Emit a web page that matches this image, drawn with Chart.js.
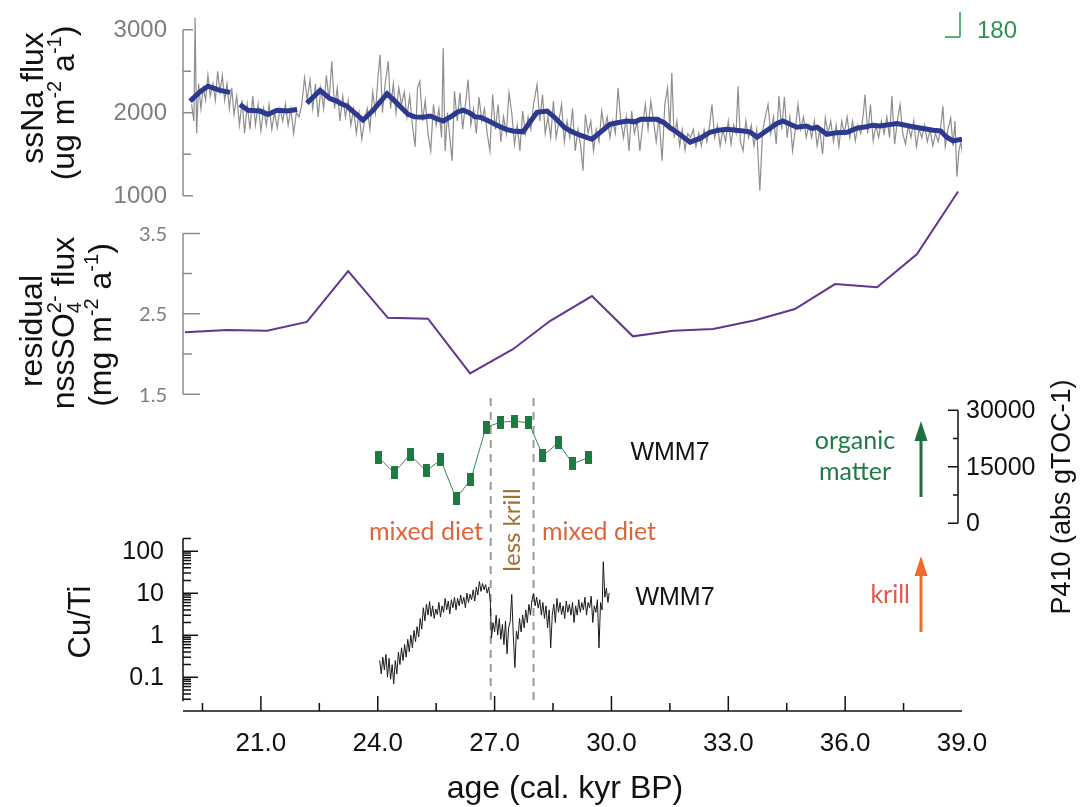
<!DOCTYPE html>
<html>
<head>
<meta charset="utf-8">
<script src="https://cdn.jsdelivr.net/npm/chart.js@4.4.0/dist/chart.umd.min.js"></script>
<style>
  html, body { margin: 0; padding: 0; background: #fff; }
  #chart { display: block; }
</style>
</head>
<body>
<canvas id="chart" width="1083" height="807"></canvas>
<script>
// ---- data ----
// ssNa flux, raw record (ug m-2 a-1)
const naRawAge = [
  19.22, 19.28, 19.31, 19.35, 19.40, 19.46, 19.52, 19.58, 19.64, 19.70,
  19.77, 19.83, 19.89, 19.95, 20.01, 20.07, 20.13, 20.19, 20.25, 20.31,
  20.38, 20.45, 20.52, 20.58, 20.65, 20.72, 20.79, 20.86, 20.93, 21.00,
  21.07, 21.14, 21.21, 21.28, 21.35, 21.42, 21.49, 21.56, 21.63, 21.70,
  21.77, 21.84, 21.91, 21.98, 22.05, 22.12, 22.19, 22.26, 22.33, 22.40,
  22.47, 22.54, 22.61, 22.68, 22.75, 22.82, 22.89, 22.96, 23.03, 23.10,
  23.17, 23.24, 23.31, 23.38, 23.45, 23.52, 23.59, 23.66, 23.73, 23.80,
  23.87, 23.94, 24.01, 24.06, 24.12, 24.19, 24.27, 24.33, 24.40, 24.47,
  24.54, 24.61, 24.68, 24.75, 24.82, 24.89, 24.96, 25.02, 25.08, 25.15,
  25.22, 25.29, 25.36, 25.43, 25.50, 25.57, 25.64, 25.68, 25.73, 25.79,
  25.85, 25.91, 25.97, 26.04, 26.11, 26.18, 26.25, 26.32, 26.39, 26.46,
  26.53, 26.60, 26.67, 26.74, 26.81, 26.88, 26.95, 27.02, 27.09, 27.16,
  27.23, 27.30, 27.37, 27.44, 27.51, 27.58, 27.65, 27.72, 27.79, 27.86,
  27.93, 28.00, 28.09, 28.16, 28.23, 28.30, 28.37, 28.44, 28.51, 28.58,
  28.65, 28.72, 28.79, 28.86, 28.93, 29.00, 29.07, 29.14, 29.21, 29.27,
  29.33, 29.40, 29.47, 29.54, 29.61, 29.68, 29.75, 29.82, 29.89, 29.96,
  30.03, 30.10, 30.17, 30.24, 30.31, 30.38, 30.45, 30.52, 30.59, 30.66,
  30.73, 30.80, 30.87, 30.94, 31.01, 31.08, 31.15, 31.22, 31.30, 31.37,
  31.44, 31.50, 31.55, 31.61, 31.68, 31.75, 31.82, 31.89, 31.96, 32.03,
  32.10, 32.17, 32.24, 32.31, 32.38, 32.45, 32.52, 32.58, 32.65, 32.72,
  32.79, 32.86, 32.93, 33.00, 33.07, 33.14, 33.20, 33.25, 33.31, 33.38,
  33.45, 33.52, 33.59, 33.66, 33.73, 33.81, 33.88, 33.95, 34.02, 34.09,
  34.16, 34.23, 34.30, 34.37, 34.44, 34.51, 34.58, 34.65, 34.72, 34.79,
  34.86, 34.93, 35.00, 35.07, 35.14, 35.21, 35.28, 35.35, 35.42, 35.49,
  35.56, 35.63, 35.70, 35.77, 35.84, 35.91, 35.98, 36.05, 36.12, 36.19,
  36.26, 36.33, 36.40, 36.47, 36.51, 36.58, 36.65, 36.72, 36.79, 36.86,
  36.93, 37.00, 37.07, 37.14, 37.20, 37.27, 37.34, 37.41, 37.48, 37.55,
  37.62, 37.69, 37.76, 37.83, 37.90, 37.97, 38.04, 38.11, 38.18, 38.25,
  38.32, 38.39, 38.46, 38.51, 38.57, 38.64, 38.71, 38.77, 38.82, 38.87,
  38.92, 38.97, 39.02
];
const naRaw = [
  2100, 1900, 3150, 1750, 2350, 2050, 2300, 2150, 2450, 2200,
  2350, 2150, 2500, 2250, 2450, 2150, 2350, 2050, 2300, 1980,
  2200, 1850, 2150, 1750, 2100, 1800, 2200, 1850, 2100, 1780,
  2050, 1850, 2100, 1800, 2000, 1820, 2050, 1900, 2100, 1850,
  2050, 1750, 2000, 1950, 2100, 2420, 2150, 2400, 2050, 2350,
  1950, 2300, 2050, 2450, 2150, 2620, 2050, 2300, 1900, 2200,
  1950, 2150, 1850, 2050, 1750, 2000, 1680, 1900, 2050, 1800,
  2250, 2000, 2450, 2700, 2000, 2350, 2620, 2050, 2350, 2000,
  2300, 2100, 2250, 1950, 2200, 1850, 1590, 2300, 2380, 1900,
  2150, 1750, 1540, 2100, 1850, 2050, 1700, 2780, 1540, 2000,
  1700, 1420, 2260, 1900, 2240, 1800, 2100, 2400, 1850, 2050,
  1750, 2190, 1900, 2050, 1750, 1540, 2220, 1800, 2100, 1650,
  1950, 1750, 2240, 2000, 1620, 1850, 1540, 2020, 1750, 1950,
  1800, 2100, 2340, 1900, 2220, 1750, 1950, 1700, 2140, 1700,
  1900, 2100, 1650, 1900, 1700, 2050, 1540, 1800, 1600, 1300,
  1980, 1750, 1900, 1540, 1800, 1650, 2020, 1800, 1950, 1700,
  1900, 1750, 2300, 1900, 1700, 1950, 1540, 2020, 1750, 1900,
  1540, 1850, 2100, 1800, 2140, 1900, 1650, 1950, 1420, 2100,
  2300, 1800, 2480, 1700, 1900, 1600, 1800, 1550, 1750, 1700,
  1800, 1590, 1750, 1600, 1800, 1650, 1850, 2100, 1700, 1850,
  1600, 1800, 1650, 1900, 1620, 1850, 1750, 2320, 1650, 1540,
  1900, 1700, 1850, 1600, 1800, 1060, 1780, 1950, 2100, 1750,
  1950, 1620, 2200, 1800, 2190, 1700, 1950, 1540, 1800, 2100,
  1800, 1950, 1700, 1850, 1700, 1900, 1600, 1800, 1500, 1940,
  1750, 1900, 1650, 1850, 1590, 1900, 1750, 1950, 1700, 1900,
  1660, 1850, 1750, 2000, 2220, 1750, 2100, 1660, 1850, 1700,
  1900, 1750, 1950, 1700, 2200, 1620, 1900, 2100, 1750, 1620,
  1850, 1700, 1900, 1590, 1800, 1700, 1850, 1650, 1800, 1600,
  1750, 1650, 1850, 2080, 1590, 1800, 1940, 1600, 1900, 1230,
  1540, 1650, 1470
];

// ssNa flux, smoothed (null = gap in the curve)
const naSmoothAge = [
  19.18, 19.44, 19.64, 19.95, 20.21, 20.33, 20.46, 20.67, 20.98, 21.18,
  21.41, 21.67, 21.93, 22.05, 22.18, 22.52, 22.77, 22.95, 23.05, 23.21,
  23.62, 23.88, 24.24, 24.44, 24.78, 24.95, 25.16, 25.35, 25.50, 25.68,
  25.90, 26.05, 26.19, 26.35, 26.50, 26.63, 26.85, 27.10, 27.30, 27.47,
  27.73, 28.09, 28.35, 28.55, 28.80, 29.01, 29.25, 29.50, 29.96, 30.15,
  30.40, 30.60, 30.75, 30.91, 31.17, 31.35, 31.50, 31.68, 32.02, 32.27,
  32.53, 32.75, 32.97, 33.38, 33.55, 33.74, 34.25, 34.40, 34.76, 35.00,
  35.15, 35.28, 35.53, 35.80, 36.05, 36.30, 36.55, 36.70, 36.89, 37.33,
  37.55, 37.74, 38.26, 38.45, 38.61, 38.77, 39.00
];
const naSmooth = [
  2140, 2255, 2320, 2270, 2245, null, 2100, 2030, 2020, 1980,
  2030, 2020, 2040, null, 2115, 2270, 2170, 2140, 2110, 2080,
  1910, 2030, 2230, 2140, 1980, 1950, 1945, 1960, 1930, 1900,
  1960, 2010, 2030, 2000, 1950, 1945, 1900, 1840, 1800, 1780,
  1770, 2005, 2020, 1940, 1820, 1765, 1720, 1680, 1860, 1880,
  1900, 1890, 1920, 1920, 1920, 1880, 1820, 1765, 1645, 1690,
  1765, 1790, 1800, 1780, 1770, 1705, 1870, 1900, 1825, 1840,
  1810, 1825, 1740, 1760, 1765, 1815, 1830, 1850, 1840, 1870,
  1850, 1830, 1790, 1780, 1705, 1660, 1680
];

// residual nssSO4 2- flux (mg m-2 a-1)
const so4Age = [19.05, 20.13, 21.16, 22.18, 23.24, 24.26, 25.29, 26.37, 27.47, 28.42,
                29.50, 30.55, 31.58, 32.61, 33.69, 34.71, 35.74, 36.82, 37.84, 38.90];
const so4Flux = [2.27, 2.30, 2.29, 2.40, 3.03, 2.45, 2.44, 1.76, 2.06, 2.41,
                 2.72, 2.22, 2.29, 2.31, 2.42, 2.56, 2.87, 2.83, 3.24, 4.02];

// P410 (abs gTOC-1), WMM7
const p410Age = [24.03, 24.42, 24.83, 25.24, 25.62, 26.01, 26.39, 26.78, 27.16, 27.52,
                 27.88, 28.24, 28.63, 29.01, 29.40];
const p410 = [17400, 13400, 18200, 13900, 16800, 6600, 11600, 25500, 26800, 27100,
              26600, 17900, 21300, 15800, 17400];

// Cu/Ti, WMM7
const cuTiAge = [
  24.05, 24.09, 24.13, 24.17, 24.21, 24.25, 24.29, 24.33, 24.37, 24.41,
  24.45, 24.49, 24.53, 24.57, 24.61, 24.65, 24.69, 24.73, 24.77, 24.81,
  24.85, 24.89, 24.93, 24.97, 25.01, 25.05, 25.09, 25.13, 25.17, 25.21,
  25.25, 25.29, 25.33, 25.37, 25.41, 25.45, 25.49, 25.53, 25.57, 25.61,
  25.65, 25.69, 25.73, 25.77, 25.81, 25.85, 25.89, 25.93, 25.97, 26.01,
  26.05, 26.09, 26.13, 26.17, 26.21, 26.25, 26.29, 26.33, 26.37, 26.41,
  26.45, 26.49, 26.53, 26.57, 26.61, 26.65, 26.69, 26.73, 26.77, 26.81,
  26.85, 26.89, 26.92, 26.96, 27.00, 27.04, 27.08, 27.12, 27.16, 27.20,
  27.24, 27.28, 27.32, 27.36, 27.40, 27.44, 27.48, 27.52, 27.56, 27.60,
  27.64, 27.68, 27.72, 27.76, 27.80, 27.84, 27.88, 27.92, 27.96, 28.00,
  28.04, 28.08, 28.12, 28.16, 28.20, 28.24, 28.28, 28.32, 28.36, 28.40,
  28.44, 28.48, 28.52, 28.56, 28.60, 28.64, 28.68, 28.72, 28.76, 28.80,
  28.84, 28.88, 28.92, 28.96, 29.00, 29.04, 29.08, 29.12, 29.16, 29.20,
  29.24, 29.28, 29.32, 29.36, 29.40, 29.44, 29.48, 29.52, 29.56, 29.60,
  29.64, 29.68, 29.72, 29.76, 29.79, 29.83, 29.87, 29.91, 29.94
];
const cuTi = [
  0.25, 0.12, 0.3, 0.15, 0.35, 0.1, 0.28, 0.09, 0.2, 0.07,
  0.25, 0.12, 0.4, 0.2, 0.5, 0.25, 0.6, 0.3, 0.8, 0.4,
  1.0, 0.5, 1.3, 0.7, 1.6, 0.9, 2.5, 1.4, 4.5, 2.2,
  5.5, 3.0, 6.3, 2.8, 5.0, 2.5, 4.2, 3.1, 6.0, 2.7,
  5.0, 3.5, 7.5, 4.0, 6.5, 3.2, 7.0, 4.5, 8.0, 4.0,
  7.5, 5.0, 9.0, 5.5, 8.0, 4.5, 10, 6.0, 9.5, 7.0,
  12, 6.5, 14, 9.0, 19, 11, 17, 12, 16, 10,
  14, 6.3, 0.85, 2.0, 1.2, 3.0, 1.0, 2.5, 0.8, 1.8,
  0.6, 2.2, 0.36, 1.5, 2.1, 9.3, 1.0, 0.17, 1.25, 0.8,
  2.5, 1.2, 3.0, 1.5, 4.0, 2.0, 5.4, 3.0, 7.0, 9.8,
  5.0, 8.0, 4.4, 7.0, 3.0, 6.0, 2.5, 5.0, 1.5, 4.0,
  0.5, 3.0, 5.5, 2.0, 7.5, 3.5, 6.0, 3.1, 5.0, 2.5,
  6.5, 3.5, 5.4, 3.0, 6.0, 2.0, 5.0, 3.0, 7.0, 3.5,
  6.0, 4.0, 8.0, 3.0, 6.0, 4.5, 8.5, 2.0, 5.0, 3.5,
  7.0, 0.5, 6.0, 4.0, 56, 8.0, 13, 6.0, 10
];

// boundaries of the "less krill" interval (kyr BP)
const zoneBounds = [26.9, 28.0];

// tick values / labels
const xMajorTicks = [21, 24, 27, 30, 33, 36];
const xMinorTicks = [19.5, 22.5, 25.5, 28.5, 31.5, 34.5, 37.5];
const xLabelValues = [21, 24, 27, 30, 33, 36, 39];
const xLabels = ['21.0', '24.0', '27.0', '30.0', '33.0', '36.0', '39.0'];
const naTicks = [1000, 2000, 3000];
const naMinor = [1500, 2500];
const so4Ticks = [1.5, 2.5, 3.5];
const so4Minor = [2.0, 3.0];
const p410Ticks = [0, 15000, 30000];
const p410Minor = [7500, 22500];
const cuTiTicks = [0.1, 1, 10, 100];
const cuTiLabels = ['0.1', '1', '10', '100'];

// ---- layout ----
const PLOT = { left: 183, right: 962, top: 0, bottom: 711 };
const SANS = '"Liberation Sans", Arial, sans-serif';
const SOFT = 'Lato, "Liberation Sans", sans-serif';

// y range so that value v1 lands on pixel p1 and v2 on p2
function fitLinear(v1, p1, v2, p2) {
  const k = (v2 - v1) / (p2 - p1);
  return { min: v1 + (PLOT.bottom - p1) * k, max: v1 + (PLOT.top - p1) * k };
}
function fitLog(v1, p1, v2, p2) {
  const l1 = Math.log10(v1), k = (Math.log10(v2) - l1) / (p2 - p1);
  return { min: Math.pow(10, l1 + (PLOT.bottom - p1) * k), max: Math.pow(10, l1 + (PLOT.top - p1) * k) };
}

const cuTiMinor = [];
[0.01, 0.1, 1, 10, 100].forEach(d => {
  for (let m = 2; m <= 9; m++) {
    const v = +(m * d).toPrecision(3);
    if (v >= 0.028 && v <= 200) cuTiMinor.push(v);
  }
});

const pts = (xs, ys) => xs.map((x, i) => ({ x: x, y: ys[i] }));

// green rectangular markers
const marker = document.createElement('canvas');
marker.width = 7; marker.height = 13;
const mctx = marker.getContext('2d');
mctx.fillStyle = '#1b7b40';
mctx.fillRect(0, 0, 7, 13);

function line(ctx, x0, y0, x1, y1) {
  ctx.moveTo(x0, y0); ctx.lineTo(x1, y1);
}

function vAxis(ctx, scale, o) {
  ctx.save();
  ctx.strokeStyle = o.color;
  ctx.lineWidth = 1.5;
  ctx.beginPath();
  line(ctx, o.x, scale.getPixelForValue(o.range[0]), o.x, scale.getPixelForValue(o.range[1]));
  o.major.forEach(v => {
    const y = scale.getPixelForValue(v);
    line(ctx, o.x, y, o.x + o.dir * o.majorLen, y);
  });
  o.minor.forEach(v => {
    const y = scale.getPixelForValue(v);
    line(ctx, o.x, y, o.x + o.dir * o.minorLen, y);
  });
  ctx.stroke();
  ctx.fillStyle = o.textColor;
  ctx.font = o.font;
  ctx.textAlign = o.dir > 0 ? 'right' : 'left';
  ctx.textBaseline = 'middle';
  o.major.forEach((v, i) => ctx.fillText(o.labels[i], o.labelX, scale.getPixelForValue(v) + 1));
  ctx.restore();
}

// text with super/subscripts; parts: strings or {sup, sub}
function richText(ctx, parts, x, y, size, rotate, color, family) {
  const small = Math.round(size * 0.62);
  const big = size + 'px ' + family, little = small + 'px ' + family;
  const width = p => {
    if (typeof p === 'string') { ctx.font = big; return ctx.measureText(p).width; }
    ctx.font = little;
    return Math.max(p.sup ? ctx.measureText(p.sup).width : 0, p.sub ? ctx.measureText(p.sub).width : 0);
  };
  ctx.save();
  ctx.translate(x, y);
  if (rotate) ctx.rotate(rotate);
  ctx.fillStyle = color;
  ctx.textAlign = 'left';
  ctx.textBaseline = 'alphabetic';
  let cx = -parts.reduce((s, p) => s + width(p), 0) / 2;
  parts.forEach(p => {
    const w = width(p);
    if (typeof p === 'string') {
      ctx.font = big; ctx.fillText(p, cx, 0);
    } else {
      ctx.font = little;
      if (p.sup) ctx.fillText(p.sup, cx, -size * 0.4);
      if (p.sub) ctx.fillText(p.sub, cx, size * 0.22);
    }
    cx += w;
  });
  ctx.restore();
}

function arrow(ctx, x, yTail, yTip, color) {
  ctx.save();
  ctx.strokeStyle = color; ctx.fillStyle = color; ctx.lineWidth = 3;
  ctx.beginPath(); line(ctx, x, yTail, x, yTip + 16); ctx.stroke();
  ctx.beginPath();
  ctx.moveTo(x, yTip); ctx.lineTo(x - 6.5, yTip + 20); ctx.lineTo(x + 6.5, yTip + 20);
  ctx.closePath(); ctx.fill();
  ctx.restore();
}

const decorations = {
  id: 'decorations',
  beforeDatasetsDraw(chart) {
    const ctx = chart.ctx, xs = chart.scales.x;
    ctx.save();
    ctx.strokeStyle = '#9b9b9b';
    ctx.lineWidth = 2;
    ctx.setLineDash([8, 6]);
    zoneBounds.forEach(a => {
      const px = xs.getPixelForValue(a);
      ctx.beginPath(); line(ctx, px, 398, px, 700); ctx.stroke();
    });
    ctx.restore();
  },
  afterDraw(chart) {
    const ctx = chart.ctx, s = chart.scales, xs = s.x;

    // y axes
    vAxis(ctx, s.yNa, { x: 183, dir: 1, range: [1000, 3000], major: naTicks, minor: naMinor,
      majorLen: 10, minorLen: 8, labels: naTicks.map(String), labelX: 167,
      color: '#8a8a8a', textColor: '#7d7d7d', font: '24px ' + SANS });
    vAxis(ctx, s.ySO4, { x: 183, dir: 1, range: [1.5, 3.5], major: so4Ticks, minor: so4Minor,
      majorLen: 17, minorLen: 9, labels: so4Ticks.map(v => v.toFixed(1)), labelX: 167,
      color: '#8a8a8a', textColor: '#7d7d7d', font: '20px ' + SOFT });
    vAxis(ctx, s.yCu, { x: 183, dir: 1, range: [0.027, 200], major: cuTiTicks, minor: cuTiMinor,
      majorLen: 15, minorLen: 8, labels: cuTiLabels, labelX: 164,
      color: '#111', textColor: '#111', font: '25px ' + SANS });
    vAxis(ctx, s.yP, { x: 958, dir: -1, range: [0, 30000], major: p410Ticks, minor: p410Minor,
      majorLen: 10, minorLen: 5, labels: p410Ticks.map(String), labelX: 966,
      color: '#111', textColor: '#111', font: '25px ' + SANS });

    // x axis (ticks point up)
    ctx.save();
    ctx.strokeStyle = '#111'; ctx.lineWidth = 1.5;
    ctx.beginPath();
    line(ctx, xs.getPixelForValue(19), 711, xs.getPixelForValue(39), 711);
    xMajorTicks.forEach(v => { const px = xs.getPixelForValue(v); line(ctx, px, 711, px, 696); });
    xMinorTicks.forEach(v => { const px = xs.getPixelForValue(v); line(ctx, px, 711, px, 703); });
    ctx.stroke();
    ctx.fillStyle = '#111'; ctx.font = '26px ' + SANS;
    ctx.textAlign = 'center'; ctx.textBaseline = 'middle';
    xLabelValues.forEach((v, i) => ctx.fillText(xLabels[i], xs.getPixelForValue(v), 744));
    ctx.font = '32px ' + SANS; ctx.textBaseline = 'alphabetic';
    ctx.fillText('age (cal. kyr BP)', 565, 798);
    ctx.restore();

    // axis titles
    const up = -Math.PI / 2;
    richText(ctx, ['ssNa flux'], 43, 98, 32, up, '#111', SANS);
    richText(ctx, ['(ug m', { sup: '-2' }, ' a', { sup: '-1' }, ')'], 74, 103, 32, up, '#111', SANS);
    richText(ctx, ['residual'], 42, 331, 32, up, '#111', SANS);
    richText(ctx, ['nssSO', { sub: '4', sup: '2-' }, ' flux'], 74, 323, 32, up, '#111', SANS);
    richText(ctx, ['(mg m', { sup: '-2' }, ' a', { sup: '-1' }, ')'], 111, 325, 32, up, '#111', SANS);
    richText(ctx, ['Cu/Ti'], 90, 622, 31, up, '#111', SANS);
    richText(ctx, ['P410 (abs gTOC-1)'], 1070, 497, 27, up, '#111', SANS);

    // annotations
    ctx.save();
    ctx.textBaseline = 'middle'; ctx.textAlign = 'center';
    ctx.fillStyle = '#111'; ctx.font = '25px ' + SANS;
    ctx.fillText('WMM7', 670, 453);
    ctx.fillText('WMM7', 675, 598);
    ctx.fillStyle = '#df643a'; ctx.font = '25px ' + SOFT;
    ctx.fillText('mixed diet', 426, 532);
    ctx.fillText('mixed diet', 599, 532);
    ctx.fillStyle = '#1f7a45'; ctx.textBaseline = 'alphabetic';
    ctx.fillText('organic', 855, 449);
    ctx.fillText('matter', 855, 480);
    ctx.fillStyle = '#e0564a'; ctx.textAlign = 'right';
    ctx.fillText('krill', 910, 603);
    ctx.restore();
    richText(ctx, ['less krill'], 520, 530, 24, up, '#a2702f', SOFT);

    arrow(ctx, 921, 497, 421, '#1e6f3f');
    arrow(ctx, 921, 632, 556, '#f26a2b');

    // fragment of a scale at the top right
    ctx.save();
    ctx.strokeStyle = '#2b9550'; ctx.lineWidth = 1.5;
    ctx.beginPath(); line(ctx, 960, 12, 960, 37); line(ctx, 945, 37, 960, 37); ctx.stroke();
    ctx.fillStyle = '#2b9550'; ctx.font = '24px ' + SANS;
    ctx.textAlign = 'left'; ctx.textBaseline = 'middle';
    ctx.fillText('180', 977, 31);
    ctx.restore();
  }
};

new Chart(document.getElementById('chart'), {
  type: 'line',
  data: {
    datasets: [
      { data: pts(naSmoothAge, naSmooth), yAxisID: 'yNa', borderColor: '#2b3990', borderWidth: 5,
        pointRadius: 0, order: 0 },
      { data: pts(naRawAge, naRaw), yAxisID: 'yNa', borderColor: '#8e8e8e', borderWidth: 1.2,
        pointRadius: 0, order: 1 },
      { data: pts(so4Age, so4Flux), yAxisID: 'ySO4', borderColor: '#62358f', borderWidth: 2,
        pointRadius: 0, order: 0 },
      { data: pts(p410Age, p410), yAxisID: 'yP', borderColor: '#2e8b57', borderWidth: 1,
        pointStyle: marker, pointRadius: 4, order: 0 },
      { data: pts(cuTiAge, cuTi), yAxisID: 'yCu', borderColor: '#1a1a1a', borderWidth: 1,
        pointRadius: 0, order: 0 }
    ]
  },
  options: {
    responsive: false,
    animation: false,
    devicePixelRatio: 1,
    layout: { padding: { left: PLOT.left, right: 1083 - PLOT.right, top: PLOT.top, bottom: 807 - PLOT.bottom } },
    plugins: { legend: { display: false }, tooltip: { enabled: false } },
    elements: { line: { tension: 0 } },
    scales: {
      x: { type: 'linear', display: false, bounds: 'data', min: 19, max: 39 },
      yNa: Object.assign({ type: 'linear', display: false, bounds: 'data' }, fitLinear(1000, 192, 3000, 25)),
      ySO4: Object.assign({ type: 'linear', display: false, bounds: 'data' }, fitLinear(1.5, 392, 3.5, 230)),
      yP: Object.assign({ type: 'linear', display: false, bounds: 'data' }, fitLinear(0, 522, 30000, 408)),
      yCu: Object.assign({ type: 'logarithmic', display: false, bounds: 'data' }, fitLog(0.1, 677, 100, 550))
    }
  },
  plugins: [decorations]
});
</script>
</body>
</html>
